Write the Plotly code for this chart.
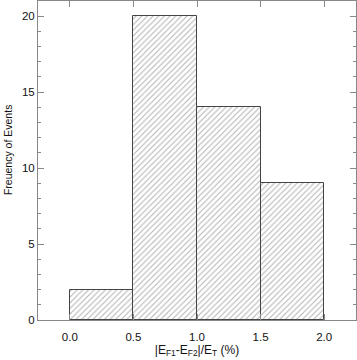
import plotly.graph_objects as go

bin_left = [0.0, 0.5, 1.0, 1.5]
counts = [2, 20, 14, 9]
bin_width = 0.5
x_ticks = [0.0, 0.5, 1.0, 1.5, 2.0]
x_tick_labels = ["0.0", "0.5", "1.0", "1.5", "2.0"]
y_ticks = [0, 5, 10, 15, 20]
x_title = "|E<sub>F1</sub>-E<sub>F2</sub>|/E<sub>T</sub> (%)"
y_title = "Freuency of Events"

FONT = "Liberation Sans, Arial"

fig = go.Figure()
fig.add_trace(go.Bar(
    x=[b + bin_width / 2 for b in bin_left],
    y=counts,
    width=bin_width,
    hoverinfo="skip",
    marker=dict(
        color="white",
        line=dict(color="#444444", width=1),
        pattern=dict(shape="/", fgcolor="#666666", bgcolor="white", size=4, solidity=0.25),
    ),
))

axis_common = dict(
    showline=True, linecolor="#888888", linewidth=1, mirror="ticks",
    ticks="inside", tickcolor="#888888", ticklen=6, tickwidth=1,
    showgrid=False, zeroline=False, automargin=False,
    tickfont=dict(family=FONT, size=11.5, color="#111111"),
)

fig.update_xaxes(range=[-0.25, 2.25], tickvals=x_ticks, ticktext=x_tick_labels,
                 ticklabelstandoff=6,
                 title=dict(text=x_title,
                            font=dict(family=FONT, size=12, color="#111111"),
                            standoff=2),
                 **axis_common)
fig.update_yaxes(range=[0, 21], tickvals=y_ticks, ticklabelstandoff=0,
                 minor=dict(dtick=1, ticks="inside", ticklen=3, tickcolor="#888888"),
                 **axis_common)

fig.add_annotation(text=y_title, textangle=-90, xref="paper", yref="paper",
                   x=-0.094, y=0.533, xanchor="center", yanchor="middle",
                   showarrow=False, font=dict(family=FONT, size=10.5, color="#111111"))

fig.update_layout(
    width=357, height=360,
    margin=dict(l=38, r=1, t=1, b=40),
    paper_bgcolor="white", plot_bgcolor="white",
    showlegend=False, bargap=0,
)
fig.write_html("out.html", config={"displayModeBar": False},
               post_script="document.body.style.margin='0px';document.body.style.padding='0px';")
